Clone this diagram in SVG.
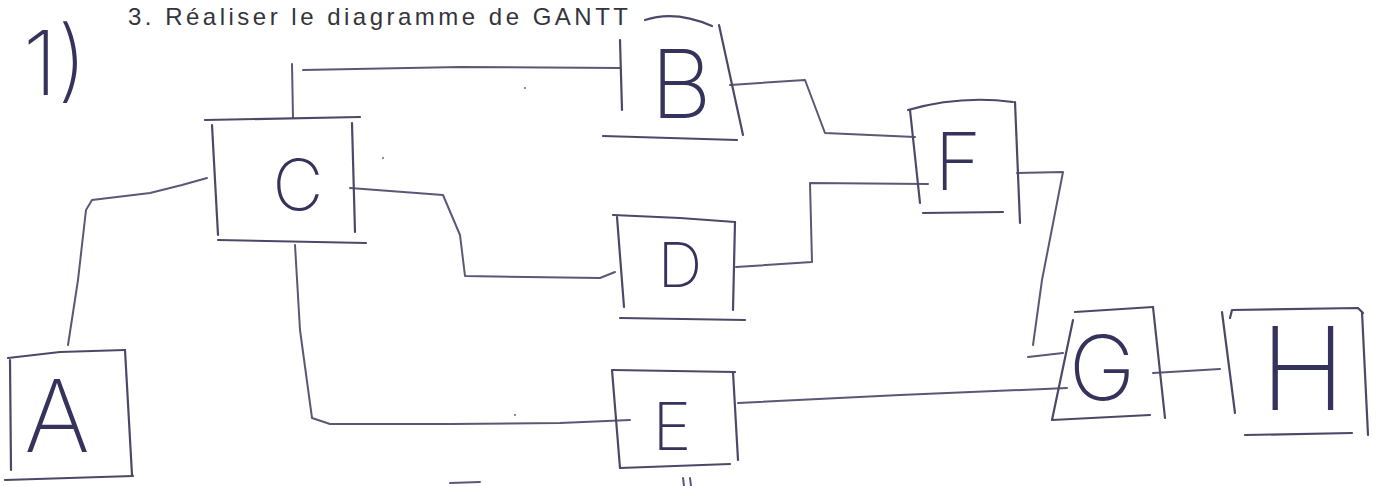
<svg xmlns="http://www.w3.org/2000/svg" width="1377" height="486" viewBox="0 0 1377 486">
<style>
.ln{fill:none;stroke:#5e5676;stroke-width:2;stroke-linecap:round;stroke-linejoin:round}
.bx{fill:none;stroke:#4e4868;stroke-width:2.2;stroke-linecap:round;stroke-linejoin:round}
.lt{font-family:Inter,Lato,"Open Sans",sans-serif;font-weight:200;fill:#35325c;text-anchor:middle}
.ti{font-family:"Liberation Sans",sans-serif;font-size:24px;fill:#34343c}
</style>
<rect width="1377" height="486" fill="#ffffff"/>
<text class="ti" x="128" y="25" textLength="500">3. Réaliser le diagramme de GANTT</text>
<text class="lt" x="55" y="95" font-size="90">1)</text>
<g id="connectors">
<polyline class="ln" points="68,345 78,280 86,210 92,200 150,193 182,185 207,178"/>
<polyline class="ln" points="293,118 292,64"/>
<polyline class="ln" points="303,70 460,67 620,68"/>
<polyline class="ln" points="350,188 443,195 460,235 465,276 600,278 615,272"/>
<polyline class="ln" points="295,245 300,330 312,418 330,424 450,424 560,423 630,420"/>
<polyline class="ln" points="730,85 805,80 825,133 915,137"/>
<polyline class="ln" points="736,267 812,262 810,183 928,184"/>
<polyline class="ln" points="1017,173 1063,172 1042,280 1033,345"/>
<polyline class="ln" points="1028,357 1063,353"/>
<polyline class="ln" points="738,403 900,395 1067,388"/>
<polyline class="ln" points="1153,373 1220,369"/>
<polyline class="ln" points="450,483 480,482"/>
<polyline class="ln" points="683,478 684,486"/>
<polyline class="ln" points="690,478 691,486"/>
<circle cx="525" cy="88" r="1" fill="#6a6480"/>
<circle cx="383" cy="158" r="1" fill="#6a6480"/>
<circle cx="515" cy="415" r="1" fill="#6a6480"/>
</g>
<g id="node-A">
<polyline class="bx" points="8,358 60,352 125,350"/>
<polyline class="bx" points="10,360 11,470"/>
<polyline class="bx" points="125,350 132,475"/>
<polyline class="bx" points="5,480 133,476"/>
<text class="lt" x="57" y="452" font-size="100">A</text>
</g>
<g id="node-B">
<path class="bx" d="M645,20 Q675,10 712,26"/>
<polyline class="bx" points="620,40 622,110"/>
<polyline class="bx" points="719,25 743,135"/>
<polyline class="bx" points="603,136 737,140"/>
<text class="lt" x="681" y="118" font-size="95">B</text>
</g>
<g id="node-C">
<polyline class="bx" points="205,120 360,117"/>
<polyline class="bx" points="212,125 218,235"/>
<polyline class="bx" points="352,123 355,232"/>
<polyline class="bx" points="218,240 366,243"/>
<text class="lt" x="298" y="210" font-size="70">C</text>
</g>
<g id="node-D">
<polyline class="bx" points="613,215 680,218 735,222"/>
<polyline class="bx" points="617,217 624,307"/>
<polyline class="bx" points="735,222 733,310"/>
<polyline class="bx" points="620,318 745,320"/>
<text class="lt" x="680" y="287" font-size="62">D</text>
</g>
<g id="node-E">
<polyline class="bx" points="613,370 735,372"/>
<polyline class="bx" points="612,370 620,468"/>
<polyline class="bx" points="733,372 738,460"/>
<polyline class="bx" points="620,468 730,464"/>
<text class="lt" x="672" y="450" font-size="66">E</text>
</g>
<g id="node-F">
<path class="bx" d="M908,110 Q960,95 1013,102"/>
<polyline class="bx" points="910,110 920,203"/>
<polyline class="bx" points="1015,102 1020,223"/>
<polyline class="bx" points="923,213 1003,212"/>
<text class="lt" x="958" y="190" font-size="80">F</text>
</g>
<g id="node-G">
<polyline class="bx" points="1075,312 1153,307"/>
<polyline class="bx" points="1073,320 1052,420"/>
<polyline class="bx" points="1153,307 1165,418"/>
<polyline class="bx" points="1052,420 1150,415"/>
<text class="lt" x="1102" y="400" font-size="90">G</text>
</g>
<g id="node-H">
<polyline class="bx" points="1222,312 1235,413"/>
<polyline class="bx" points="1230,318 1232,310 1358,308 1363,313"/>
<polyline class="bx" points="1362,312 1368,435"/>
<polyline class="bx" points="1245,435 1352,433"/>
<text class="lt" x="1303" y="410" font-size="115">H</text>
</g>
</svg>
